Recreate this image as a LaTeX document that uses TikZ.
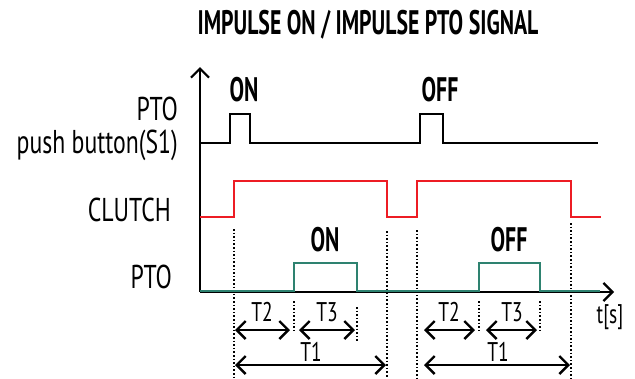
\documentclass[tikz,border=0pt]{standalone}
\usepackage{fontspec}
\setmainfont{PT Sans}[FakeStretch=0.72]
\newfontfamily\condbold{PT Sans}[FakeStretch=0.64]
\usetikzlibrary{arrows.meta}
\definecolor{clutchred}{RGB}{237,28,36}
\definecolor{ptoteal}{RGB}{46,130,112}
\tikzset{
  lbl/.style={font=\fontsize{33}{36}\selectfont, inner sep=0pt},
  small/.style={font=\fontsize{27}{30}\selectfont, inner sep=0pt},
  bold/.style={font=\condbold\bfseries\fontsize{34}{36}\selectfont, inner sep=0pt},
  axis/.style={line width=2.2pt},
  sig/.style={line width=2.6pt},
  guide/.style={line width=2.2pt, dash pattern=on 1.6pt off 2pt},
  dim/.style={<->, line width=2.4pt},
}
\begin{document}
\begin{tikzpicture}[x=1pt, y=-1pt, line join=miter, >={Straight Barb[length=9pt,width=18pt]}]
    \useasboundingbox (0,0) rectangle (635,378);
    \def\xo{200}\def\yo{292}
    % title
    \node[bold] (title) at (368,25) {IMPULSE ON / IMPULSE PTO SIGNAL};
    % axes
    \coordinate (O) at (\xo,\yo);
    \coordinate (ytip) at (\xo,67);
    \coordinate (xtip) at (614,\yo);
    \draw[axis,->] (O) -- (ytip);
    \draw[axis,->] (O) -- (xtip);
    \node[small] (tunit) at (610,317) {t[s]};
    % row labels
    \node[lbl, anchor=east] (btnA) at (178,109) {PTO};
    \node[lbl, anchor=base east] (btnB) at (178,153) {push button(S1)};
    \node[lbl, anchor=east] (clutch) at (171,210) {CLUTCH};
    \node[lbl, anchor=east] (pto) at (172,277) {PTO};
    % guides
    \foreach \x/\ya in {234/229, 387/231, 417/230, 571/223}
        \draw[guide] (\x,\ya) -- (\x,378);
    \foreach \x/\ya/\yb in {294/301/332, 357/307/341, 479/301/332, 540/301/332}
        \draw[guide] (\x,\ya) -- (\x,\yb);
    % signals
    \draw[sig] (\xo,143) -| (230,114) -| (250,143) -| (420,114) -| (443,143) -- (598,143);
    \draw[sig, clutchred] (\xo,217) -| (234,181) -| (387,217) -| (417,181) -| (571,217) -- (601,217);
    \draw[sig, ptoteal] (\xo,291) -| (294,263) -| (357,291) -| (479,263) -| (540,291) -- (600,291);
    \node[bold] (onA) at (244,90) {ON};
    \node[bold] (offA) at (440,90) {OFF};
    \node[bold] (onB) at (325,240) {ON};
    \node[bold] (offB) at (509,240) {OFF};
    % time spans
    \draw[dim] (235,330) -- (290,330);
    \draw[dim] (299,330) -- (355,330);
    \draw[dim] (235,365) -- (386,365);
    \draw[dim] (424,330) -- (475,330);
    \draw[dim] (486,330) -- (537,330);
    \draw[dim] (424,365) -- (570,365);
    \node[small] (t2A) at (262,312) {T2};
    \node[small] (t3A) at (327,312) {T3};
    \node[small] (t1A) at (311,352) {T1};
    \node[small] (t2B) at (449,312) {T2};
    \node[small] (t3B) at (512,312) {T3};
    \node[small] (t1B) at (498,352) {T1};
\end{tikzpicture}
\end{document}
